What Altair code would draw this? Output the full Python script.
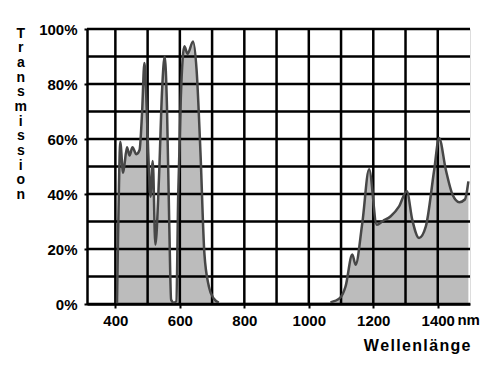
import altair as alt
import pandas as pd

# Visible band 1 (wavelength nm, transmission %)
wl1 = [405, 408, 411, 415, 424, 436, 444, 453, 465, 475, 483, 490, 495, 502, 509, 516, 524,
       535, 545, 553, 560, 567, 573, 581, 589, 595, 603, 614, 624, 641, 652, 664, 676, 690, 705, 721]
tr1 = [0, 22, 42, 59, 47.7, 57, 54, 57, 54.5, 56, 70, 87.6, 78, 55, 39, 52, 21.6,
       45, 78, 90, 72, 30, 1.5, 0.5, 1, 40, 75, 93.7, 91, 95.5, 85, 55, 18.6, 6.4, 2, 0.5]
# Infrared band 2
wl2 = [1067, 1097, 1114, 1135, 1145, 1166, 1187, 1211, 1230, 1254, 1280, 1304, 1321, 1342,
       1363, 1389, 1404, 1425, 1446, 1467, 1484, 1495]
tr2 = [0.6, 2.2, 6.4, 18, 14.3, 29.5, 49, 28.8, 30.2, 31.9, 35.5, 41, 30.6, 24,
       28.2, 48.8, 60.4, 48.8, 39.7, 37, 38, 44.6]

x_ticks = list(range(400, 1401, 100))
y_ticks = list(range(0, 101, 10))
y_title = list("Transmission")
x_title = "\u200a".join("Wellenlänge")
unit_label = "nm"

df = pd.DataFrame({
    "wl": wl1 + wl2,
    "tr": tr1 + tr2,
    "seg": ["a"] * len(wl1) + ["b"] * len(wl2),
})

W, H = 383, 275
FONT = "Liberation Sans"

xscale = alt.Scale(domain=[312, 1500], nice=False, zero=False)
yscale = alt.Scale(domain=[0, 100], nice=False)

xaxis = alt.Axis(values=x_ticks, grid=False, format="d",
                 domain=True, domainColor="black", domainWidth=2.5,
                 ticks=True, tickColor="black", tickWidth=2, tickSize=4,
                 labelColor={"condition": {"test": "datum.value % 200 != 0", "value": "transparent"},
                             "value": "black"},
                 labelFont=FONT, labelFontSize=15, labelFontWeight="bold",
                 labelPadding=5, labelBaseline="top", labelFlush=False, labelOverlap=False,
                 title=x_title, titleFont=FONT, titleFontSize=16, titleFontWeight="bold",
                 titleColor="black", titleAnchor="end", titleAlign="right",
                 titleX=W, titleY=46, titleBaseline="alphabetic", zindex=1)

yaxis = alt.Axis(values=y_ticks, grid=False,
                 domain=True, domainColor="black", domainWidth=2.5,
                 ticks=True, tickColor="black", tickWidth=2, tickSize=3,
                 labelExpr="datum.value + '%'",
                 labelColor={"condition": {"test": "datum.value % 20 != 0", "value": "transparent"},
                             "value": "black"},
                 labelFont=FONT, labelFontSize=15, labelFontWeight="bold",
                 labelPadding=7, labelBaseline="middle", labelOverlap=False,
                 title=y_title, titleFont=FONT, titleFontSize=14, titleFontWeight="bold",
                 titleColor="black", titleAngle=0, titleAlign="center", titleBaseline="top",
                 titleX=-66.7, titleY=-3, titleLineHeight=14.7, zindex=1)

base = alt.Chart(df)

area = base.mark_area(color="#bcbcbc", opacity=1, interpolate="monotone").encode(
    x=alt.X("wl:Q", scale=xscale, axis=xaxis),
    y=alt.Y("tr:Q", scale=yscale, axis=yaxis),
    detail="seg:N",
)

vgrid = alt.Chart(pd.DataFrame({"g": x_ticks})).mark_rule(color="black", strokeWidth=2.5).encode(
    x=alt.X("g:Q", scale=xscale),
)
hgrid = alt.Chart(pd.DataFrame({"g": y_ticks})).mark_rule(color="black", strokeWidth=2.5).encode(
    y=alt.Y("g:Q", scale=yscale),
)

line = base.mark_line(color="#474747", strokeWidth=2.5, interpolate="monotone").encode(
    x=alt.X("wl:Q", scale=xscale),
    y=alt.Y("tr:Q", scale=yscale),
    detail="seg:N",
)

unit = alt.Chart(pd.DataFrame({"x": [1461], "t": [unit_label]})).mark_text(
    align="left", baseline="top", font=FONT, fontSize=15, fontWeight="bold", color="black"
).encode(
    x=alt.X("x:Q", scale=xscale),
    y=alt.value(H + 9),
    text="t:N",
)

chart = alt.layer(area, vgrid, hgrid, line, unit).properties(
    width=W, height=H,
    autosize=alt.AutoSizeParams(type="none"),
    padding={"left": 79, "top": 21, "right": 16, "bottom": 55},
).configure_view(stroke="black", strokeWidth=2.5).configure(background="white")

chart.save("out.html", embed_options={"renderer": "svg", "actions": False})
